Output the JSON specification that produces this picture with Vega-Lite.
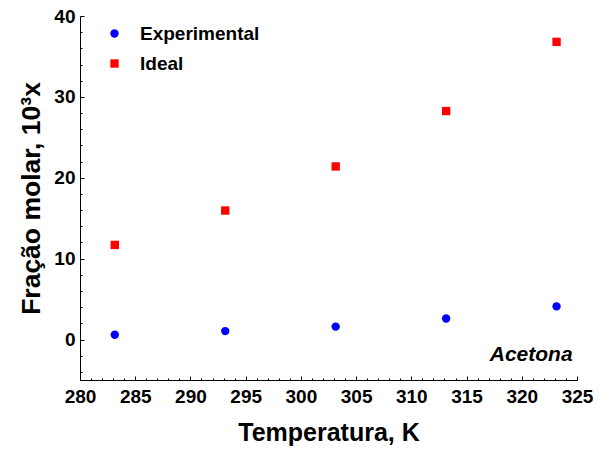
{
  "$schema": "https://vega.github.io/schema/vega-lite/v6.json",
  "width": 497,
  "height": 364,
  "autosize": "none",
  "padding": {"left": 80, "top": 16, "right": 25, "bottom": 76},
  "background": "white",
  "config": {
    "view": {"stroke": null},
    "font": "Liberation Sans",
    "axis": {
      "grid": false,
      "domainColor": "black",
      "tickColor": "black",
      "labelColor": "black",
      "titleColor": "black",
      "labelFont": "Liberation Sans",
      "titleFont": "Liberation Sans",
      "labelFontWeight": "bold",
      "titleFontWeight": "bold",
      "labelFontSize": 19,
      "titleFontSize": 25
    }
  },
  "datasets": {
    "pts": [
      {"T": 283.15, "x": 0.6, "serie": "Experimental"},
      {"T": 293.15, "x": 1.05, "serie": "Experimental"},
      {"T": 303.15, "x": 1.6, "serie": "Experimental"},
      {"T": 313.15, "x": 2.6, "serie": "Experimental"},
      {"T": 323.15, "x": 4.1, "serie": "Experimental"},
      {"T": 283.15, "x": 11.7, "serie": "Ideal"},
      {"T": 293.15, "x": 15.95, "serie": "Ideal"},
      {"T": 303.15, "x": 21.4, "serie": "Ideal"},
      {"T": 313.15, "x": 28.25, "serie": "Ideal"},
      {"T": 323.15, "x": 36.8, "serie": "Ideal"}
    ],
    "label": [{"T": 324.6, "x": -1.9, "text": "Acetona"}]
  },
  "resolve": {"axis": {"x": "independent", "y": "independent"}},
  "layer": [
    {
      "data": {"name": "pts"},
      "mark": {"type": "point", "filled": true, "opacity": 1},
      "encoding": {
        "x": {
          "field": "T", "type": "quantitative",
          "scale": {"domain": [280, 325], "nice": false, "zero": false},
          "axis": {"orient": "bottom", "title": "Temperatura, K", "values": [280,285,290,295,300,305,310,315,320,325], "tickSize": -4, "labelPadding": 11, "titlePadding": 14, "labelFlush": false}
        },
        "y": {
          "field": "x", "type": "quantitative",
          "scale": {"domain": [-5, 40], "nice": false, "zero": false},
          "axis": {"orient": "left", "title": "Fração molar, 10³x", "titleFontSize": 26.5, "values": [0,10,20,30,40], "tickSize": -4, "labelPadding": 9, "titlePadding": 8, "labelFlush": false}
        },
        "color": {
          "field": "serie", "type": "nominal",
          "scale": {"domain": ["Experimental", "Ideal"], "range": ["#0000ff", "#ff0000"]},
          "legend": {
            "title": null, "orient": "none", "legendX": 25, "legendY": 8,
            "labelFontSize": 19, "labelFontWeight": "bold", "labelColor": "black",
            "labelFont": "Liberation Sans", "symbolSize": 70, "labelOffset": 16, "rowPadding": 10,
            "symbolStrokeWidth": 0
          }
        },
        "shape": {
          "field": "serie", "type": "nominal",
          "scale": {"domain": ["Experimental", "Ideal"], "range": ["circle", "square"]}
        },
        "size": {"value": 70}
      }
    },
    {
      "data": {"name": "label"},
      "mark": {"type": "text", "align": "right", "baseline": "middle", "fontStyle": "italic", "fontWeight": "bold", "fontSize": 21, "font": "Liberation Sans", "color": "black"},
      "encoding": {
        "x": {
          "field": "T", "type": "quantitative",
          "axis": {"orient": "bottom", "title": null, "labels": false, "domain": false, "tickSize": -2, "values": [281,282,283,284,286,287,288,289,291,292,293,294,296,297,298,299,301,302,303,304,306,307,308,309,311,312,313,314,316,317,318,319,321,322,323,324]}
        },
        "y": {
          "field": "x", "type": "quantitative",
          "axis": {"orient": "left", "title": null, "labels": false, "domain": false, "tickSize": -2, "values": [-4,-2,2,4,6,8,12,14,16,18,22,24,26,28,32,34,36,38]}
        },
        "text": {"field": "text"}
      }
    }
  ]
}
